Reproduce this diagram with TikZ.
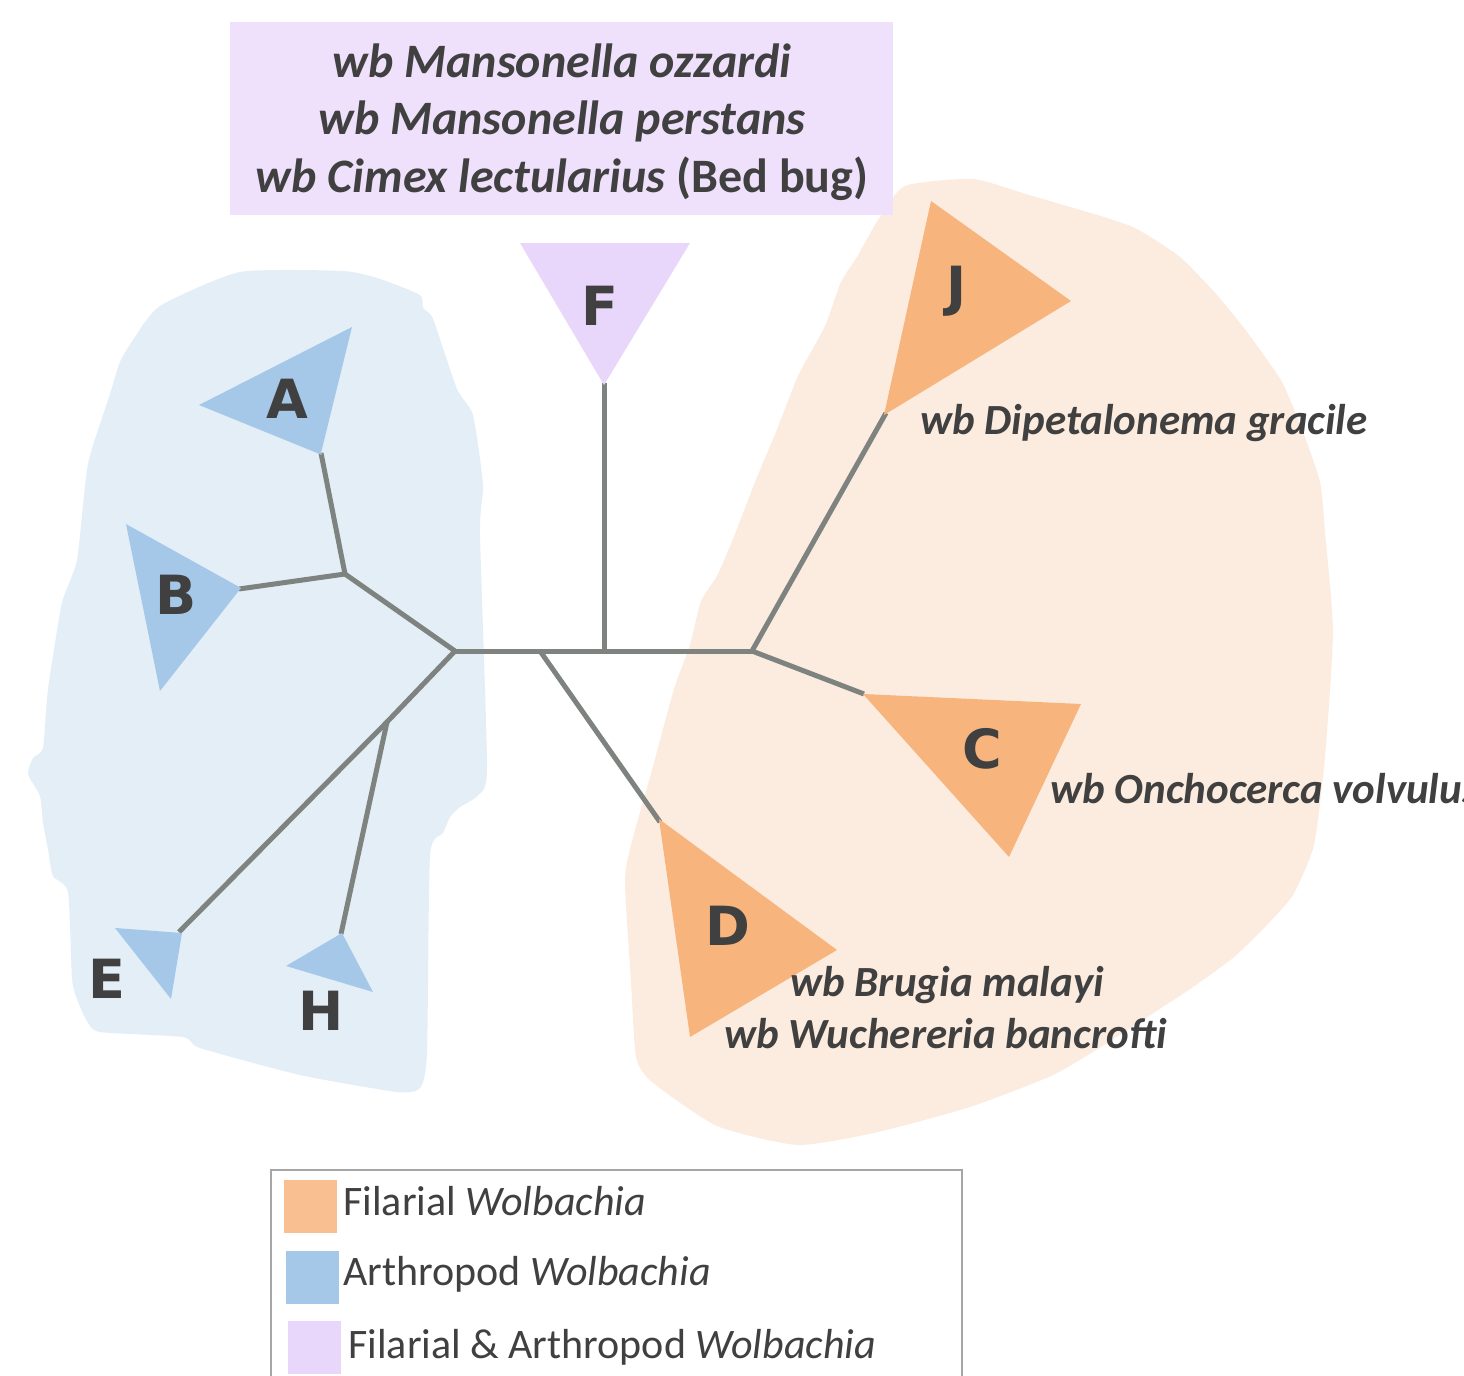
\documentclass[tikz,border=0pt]{standalone}
\usepackage{fontspec}
\setmainfont{Carlito}
\newfontfamily\letterfont{DejaVu Sans}
\definecolor{blueblob}{HTML}{E3EEF7}
\definecolor{bluetri}{HTML}{A5C8E9}
\definecolor{orangeblob}{HTML}{FCECDF}
\definecolor{orangetri}{HTML}{F8B47D}
\definecolor{purpletri}{HTML}{E9D6FB}
\definecolor{purplebox}{HTML}{EFE0FC}
\definecolor{linegray}{HTML}{7E8380}
\definecolor{textgray}{HTML}{404040}
\definecolor{legborder}{HTML}{A6A6A6}
\begin{document}
\begin{tikzpicture}[x=0.5pt,y=-0.5pt,
  branch/.style={draw=linegray,line width=2.5pt},
  letter/.style={font=\letterfont\bfseries\fontsize{27}{27}\selectfont, text=textgray, anchor=base, inner sep=0pt},
  species/.style={font=\bfseries\itshape\fontsize{21.5}{26}\selectfont, text=textgray, anchor=base west, inner sep=0pt},
  boxline/.style={font=\bfseries\itshape\fontsize{24}{28}\selectfont, text=textgray, anchor=base, inner sep=0pt},
  legtext/.style={font=\fontsize{21}{25}\selectfont, text=textgray, anchor=base west, inner sep=0pt},
  swatch/.style={draw=none, minimum width=26.5pt, minimum height=26.5pt, inner sep=0pt, anchor=north west},
]
\useasboundingbox (0,0) rectangle (1464,1376);
\fill[white] (0,0) rectangle (1464,1376);

% blobs
\fill[blueblob] plot[smooth cycle, tension=0.35] coordinates {
 (133,340) (160,306) (240,272) (343,271) (380,279) (420,295) (423,308) (433,319)
 (457,389) (473,415) (483,485) (480,533) (487,769) (477,796) (460,807) (450,817)
 (443,833) (430,855) (427,1053) (420,1088) (397,1092) (300,1075) (200,1048) (183,1037)
 (100,1032) (87,1021) (77,999) (72,978) (68,892) (53,876) (48,849) (43,823) (40,796)
 (28,774) (33,758) (43,748) (48,689) (62,603) (77,560) (88,464) (110,394) (120,362)};
\fill[orangeblob] plot[smooth cycle, tension=0.35] coordinates {
 (905,186) (973,179) (1029,195) (1104,217) (1137,229) (1180,257) (1217,295) (1247,332)
 (1282,382) (1303,432) (1320,482) (1325,532) (1333,632) (1325,757) (1314,845) (1293,895)
 (1266,926) (1234,957) (1190,989) (1104,1045) (1051,1076) (970,1107) (878,1132) (798,1145)
 (717,1126) (652,1082) (636,1057) (631,982) (625,882) (631,845) (652,770) (674,689)
 (690,645) (701,601) (717,576) (733,539) (755,482) (776,432) (798,376) (825,326)
 (841,282) (857,257) (878,220)};

% top box
\node[fill=purplebox, minimum width=331.5pt, minimum height=96.5pt, inner sep=0pt, anchor=north west] (box) at (230,22) {};
\node[boxline] (l1) at (562,77) {wb Mansonella ozzardi};
\node[boxline] (l2) at (562,134) {wb Mansonella perstans};
\node[boxline] (l3) at (562,192) {wb Cimex lectularius \upshape(Bed bug)};

% tree coordinates
\coordinate (root) at (455,651);
\coordinate (nD) at (540,651);
\coordinate (nF) at (604,651);
\coordinate (nR) at (752,651);
\coordinate (nAB) at (345,574);
\coordinate (nEH) at (387,722);
\coordinate (tA) at (321,453);
\coordinate (tB) at (239,589);
\coordinate (tE) at (179,932);
\coordinate (tH) at (341,934);
\coordinate (tF) at (604,383);
\coordinate (tJ) at (886,413);
\coordinate (tC) at (864,694);
\coordinate (tD) at (660,822);

\draw[branch] (root) -- (nR);
\draw[branch] (nF) -- (tF);
\draw[branch] (nD) -- (tD);
\draw[branch] (nR) -- (tJ);
\draw[branch] (nR) -- (tC);
\draw[branch] (root) -- (nAB);
\draw[branch] (nAB) -- (tA);
\draw[branch] (nAB) -- (tB);
\draw[branch] (root) -- (nEH) -- (tE);
\draw[branch] (nEH) -- (tH);

% triangles
\fill[bluetri] (199,405) -- (352,327) -- (tA) -- (322,455) -- cycle;
\fill[bluetri] (126,524) -- (241,588) -- (160,691) -- cycle;
\fill[bluetri] (115,928) -- (182,933) -- (171,999) -- cycle;
\fill[bluetri] (286,966) -- (342,933) -- (373,992) -- cycle;
\fill[purpletri] (520,243) -- (690,243) -- (604,385) -- cycle;
\fill[orangetri] (931,201) -- (1071,301) -- (884,415) -- cycle;
\fill[orangetri] (863,694) -- (1081,704) -- (1009,857) -- cycle;
\fill[orangetri] (659,819) -- (837,950) -- (690,1037) -- cycle;

% letters
\node[letter] (A) at (287,418) {A};
\node[letter] (B) at (176,614) {B};
\node[letter] (E) at (107,998) {E};
\node[letter] (H) at (321,1030) {H};
\node[letter] (F) at (600,325) {F};
\node[letter] (J) at (957,305) {J};
\node[letter] (C) at (982,768) {C};
\node[letter] (D) at (728,945) {D};

% species labels
\node[species] (sJ) at (920,434) {wb Dipetalonema gracile};
\node[species] (sC) at (1050,803) {wb Onchocerca volvulus};
\node[species] (sD1) at (790,996) {wb Brugia malayi};
\node[species] (sD2) at (724,1048) {wb Wuchereria bancrofti};

% legend
\draw[legborder, line width=1pt] (271,1400) -- (271,1170) -- (962,1170) -- (962,1400);
\node[swatch, fill=orangetri!85!white] (sw1) at (284,1180) {};
\node[swatch, fill=bluetri] (sw2) at (286,1251) {};
\node[swatch, fill=purpletri] (sw3) at (288,1321) {};
\node[legtext] (lg1) at (343,1215) {Filarial \textit{Wolbachia}};
\node[legtext] (lg2) at (343,1285) {Arthropod \textit{Wolbachia}};
\node[legtext] (lg3) at (348,1358) {Filarial \& Arthropod \textit{Wolbachia}};
\end{tikzpicture}
\end{document}
